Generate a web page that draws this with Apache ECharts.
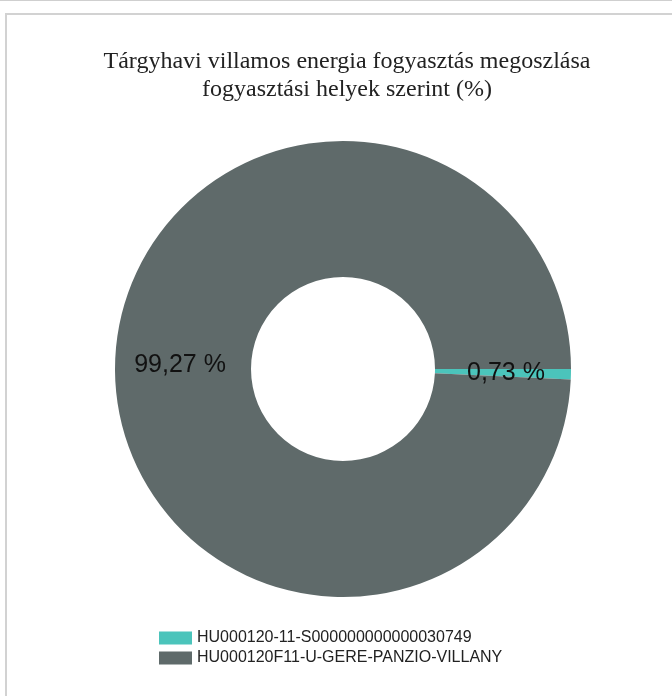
<!DOCTYPE html>
<html>
<head>
<meta charset="utf-8">
<script src="https://cdn.jsdelivr.net/npm/echarts@6/dist/echarts.min.js"></script>
<style>
html,body{margin:0;padding:0;background:#fff;}
#chart{width:672px;height:696px;}
</style>
</head>
<body>
<div id="chart"></div>
<script>
const titleText = 'Tárgyhavi villamos energia fogyasztás megoszlása\nfogyasztási helyek szerint (%)';
const categories = ['HU000120-11-S000000000000030749', 'HU000120F11-U-GERE-PANZIO-VILLANY'];
const values = [0.73, 99.27];
const colors = ['#4bc4bb', '#5f6a6a'];

const chart = echarts.init(document.getElementById('chart'), null, {renderer: 'canvas'});
const option = {
  animation: false,
  backgroundColor: '#ffffff',
  title: {
    text: titleText,
    left: 342,
    top: 43,
    textAlign: 'center',
    textStyle: {
      fontFamily: 'Liberation Serif',
      fontSize: 24,
      fontWeight: 'normal',
      color: '#222222',
      lineHeight: 28,
      align: 'center'
    }
  },
  graphic: [
    {type: 'line', shape: {x1: 0, y1: 0.5, x2: 672, y2: 0.5}, style: {stroke: '#cfcfcf', lineWidth: 1}},
    {type: 'rect', shape: {x: 6, y: 14, width: 700, height: 720}, style: {fill: 'none', stroke: '#d2d2d2', lineWidth: 2}}
  ],
  legend: {
    orient: 'vertical',
    left: 154,
    top: 625,
    itemWidth: 33,
    itemHeight: 13,
    itemGap: 4,
    icon: 'rect',
    data: categories,
    textStyle: {fontFamily: 'Liberation Sans', fontSize: 16, color: '#222222'}
  },
  series: [{
    type: 'pie',
    center: [343, 369],
    radius: [92, 228],
    startAngle: 0,
    clockwise: true,
    avoidLabelOverlap: false,
    itemStyle: {borderWidth: 0},
    label: {
      show: true,
      position: 'inside',
      fontFamily: 'Liberation Sans',
      fontSize: 25,
      color: '#111111',
      formatter: p => p.value.toFixed(2).replace('.', ',') + ' %'
    },
    labelLine: {show: false},
    data: categories.map((c, i) => ({name: c, value: values[i], itemStyle: {color: colors[i]}}))
  }]
};
chart.setOption(option);
</script>
</body>
</html>
